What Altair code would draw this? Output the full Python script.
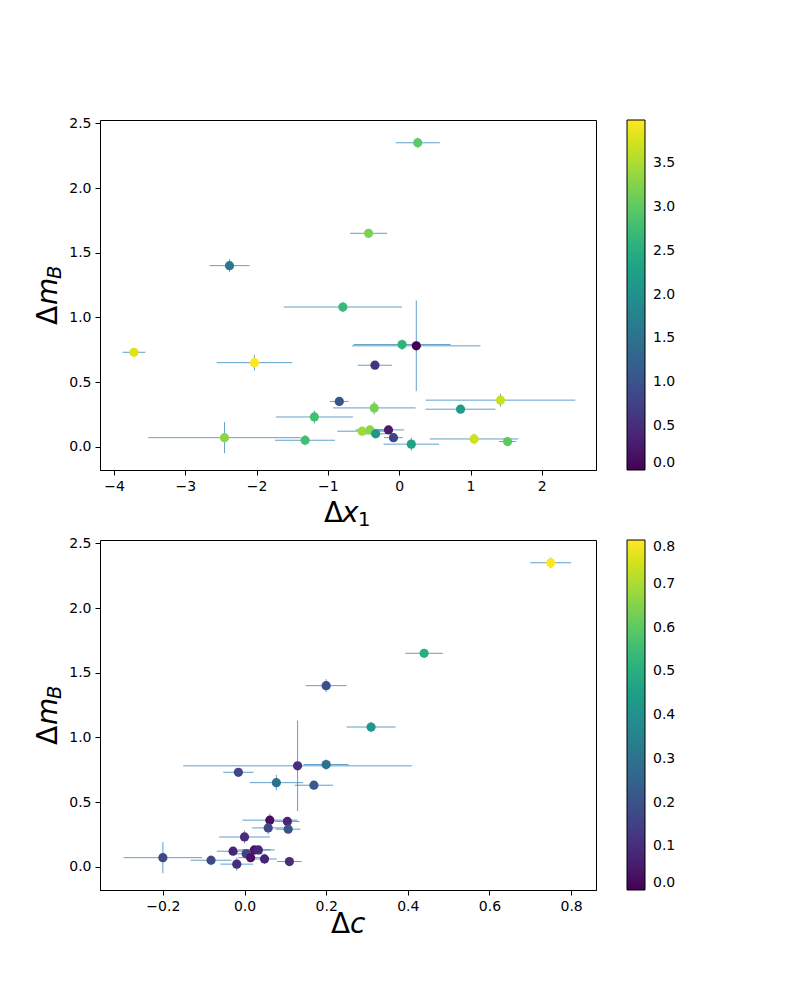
import altair as alt
import pandas as pd

# ---- data ----
dx1 = [0.26, -0.43, -2.38, -0.79, 0.04, 0.24, -3.72, -2.03, -0.34, 1.42, -0.84, -0.35,
       0.86, -1.19, -2.45, -1.32, -0.52, -0.41, -0.33, -0.15, -0.08, 1.05, 1.52, 0.17]
dx1_err = [0.31, 0.26, 0.28, 0.83, 0.68, 0.90, 0.16, 0.53, 0.24, 1.05, 0.13, 0.58,
           0.49, 0.54, 1.07, 0.42, 0.35, 0.20, 0.15, 0.22, 0.13, 0.62, 0.12, 0.39]
dmb = [2.35, 1.65, 1.40, 1.08, 0.79, 0.78, 0.73, 0.65, 0.63, 0.36, 0.35, 0.30,
       0.29, 0.23, 0.07, 0.05, 0.12, 0.13, 0.10, 0.13, 0.07, 0.06, 0.04, 0.02]
dmb_err = [0.04, 0.03, 0.05, 0.04, 0.04, 0.35, 0.02, 0.06, 0.03, 0.05, 0.02, 0.05,
           0.03, 0.05, 0.12, 0.04, 0.03, 0.03, 0.03, 0.02, 0.03, 0.04, 0.03, 0.05]
dc = [0.75, 0.44, 0.20, 0.31, 0.20, 0.13, -0.015, 0.078, 0.17, 0.062, 0.105, 0.058,
      0.107, 0.0, -0.20, -0.082, -0.028, 0.024, 0.004, 0.034, 0.015, 0.049, 0.11, -0.019]
dc_err = [0.05, 0.046, 0.05, 0.06, 0.055, 0.28, 0.037, 0.065, 0.047, 0.067, 0.03, 0.04,
          0.03, 0.062, 0.096, 0.05, 0.04, 0.04, 0.04, 0.04, 0.03, 0.03, 0.03, 0.04]
c_top = [3.0, 3.2, 1.6, 2.7, 2.6, 0.0, 3.8, 3.99, 0.6, 3.65, 1.0, 3.2,
         2.2, 2.8, 3.3, 2.8, 3.4, 3.3, 2.1, 0.3, 0.8, 3.7, 3.0, 2.3]
c_bot = [0.8, 0.5, 0.19, 0.42, 0.3, 0.1, 0.17, 0.3, 0.22, 0.03, 0.08, 0.17,
         0.2, 0.1, 0.17, 0.17, 0.08, 0.05, 0.15, 0.08, 0.03, 0.08, 0.1, 0.1]

x1_ticks = [-4, -3, -2, -1, 0, 1, 2]
c_ticks = [-0.2, 0.0, 0.2, 0.4, 0.6, 0.8]
y_ticks = [0.0, 0.5, 1.0, 1.5, 2.0, 2.5]
ctop_ticks = [0.0, 0.5, 1.0, 1.5, 2.0, 2.5, 3.0, 3.5]
cbot_ticks = [0.0, 0.1, 0.2, 0.3, 0.4, 0.5, 0.6, 0.7, 0.8]

df = pd.DataFrame({
    "dx1": dx1, "dx1_err": dx1_err, "dmb": dmb, "dmb_err": dmb_err,
    "dc": dc, "dc_err": dc_err, "c_top": c_top, "c_bot": c_bot,
})
df["x1_lo"] = df.dx1 - df.dx1_err
df["x1_hi"] = df.dx1 + df.dx1_err
df["c_lo"] = df.dc - df.dc_err
df["c_hi"] = df.dc + df.dc_err
df["mb_lo"] = df.dmb - df.dmb_err
df["mb_hi"] = df.dmb + df.dmb_err

FONT = "DejaVu Sans"
EB = "#1f77b4"
W, H = 496, 350


def txt(s, x, y, size, style="normal", angle=0):
    return alt.Chart(pd.DataFrame({"t": [s]})).mark_text(
        align="left", baseline="alphabetic", fontSize=size, fontStyle=style,
        angle=angle, font=FONT, color="black"
    ).encode(x=alt.value(x), y=alt.value(y), text="t:N")


def panel(xf, xlo, xhi, cf, cdom, cvals, xdom, xvals, xfmt, xtitle):
    xscale = alt.Scale(domain=xdom, nice=False, zero=False)
    yscale = alt.Scale(domain=[-0.18, 2.526], nice=False, zero=False)
    xaxis = alt.Axis(values=xvals, format=xfmt, title=None)
    yaxis = alt.Axis(values=y_ticks, format=".1f", title=None)
    base = alt.Chart(df)
    h = base.mark_rule(color=EB, strokeWidth=0.7).encode(
        x=alt.X(xlo + ":Q", scale=xscale, axis=xaxis),
        x2=xhi + ":Q",
        y=alt.Y("dmb:Q", scale=yscale, axis=yaxis),
    )
    v = base.mark_rule(color=EB, strokeWidth=0.7).encode(
        x=alt.X(xf + ":Q", scale=xscale),
        y=alt.Y("mb_lo:Q", scale=yscale),
        y2="mb_hi:Q",
    )
    pts = base.mark_circle(size=85, opacity=1).encode(
        x=alt.X(xf + ":Q", scale=xscale),
        y=alt.Y("dmb:Q", scale=yscale),
        color=alt.Color(
            cf + ":Q",
            scale=alt.Scale(scheme="viridis", domain=cdom),
            legend=alt.Legend(
                title=None, values=cvals, format=".1f", gradientLength=350,
                gradientThickness=18, gradientStrokeColor="black",
                gradientStrokeWidth=1, labelFontSize=14, labelFont=FONT,
                labelColor="black", labelOffset=8, offset=31, padding=0,
            ),
        ),
    )
    ytitle = [
        txt("Δ", -43, 205, 28, angle=270),
        txt("m", -43, 185, 28, style="italic", angle=270),
        txt("B", -39, 159, 19.6, style="italic", angle=270),
    ]
    return alt.layer(h, v, pts, *xtitle, *ytitle).properties(width=W, height=H)


top = panel("dx1", "x1_lo", "x1_hi", "c_top", [0, 3.99], ctop_ticks,
            [-4.196, 2.76], x1_ticks, "d",
            [txt("Δ", 224, 401.7, 28),
             txt("x", 242, 401.7, 28, style="italic"),
             txt("1", 258, 406, 19.6)])
bottom = panel("dc", "c_lo", "c_hi", "c_bot", [0, 0.8], cbot_ticks,
               [-0.354, 0.861], c_ticks, ".1f",
               [txt("Δ", 231, 393.3, 28),
                txt("c", 250, 393.3, 28, style="italic")])

chart = alt.vconcat(top, bottom, spacing=4).resolve_scale(
    color="independent"
).resolve_legend(color="independent").properties(
    padding={"left": 26, "top": 107, "right": 10, "bottom": 10}
).configure(font=FONT).configure_axis(
    domainColor="black", tickColor="black", labelColor="black",
    labelFontSize=14, labelFont=FONT, tickSize=5, labelPadding=4,
    grid=False, domainWidth=1, tickWidth=1,
).configure_view(stroke="black", strokeWidth=1)

chart.save("out.html", embed_options={"renderer": "svg", "actions": False})
